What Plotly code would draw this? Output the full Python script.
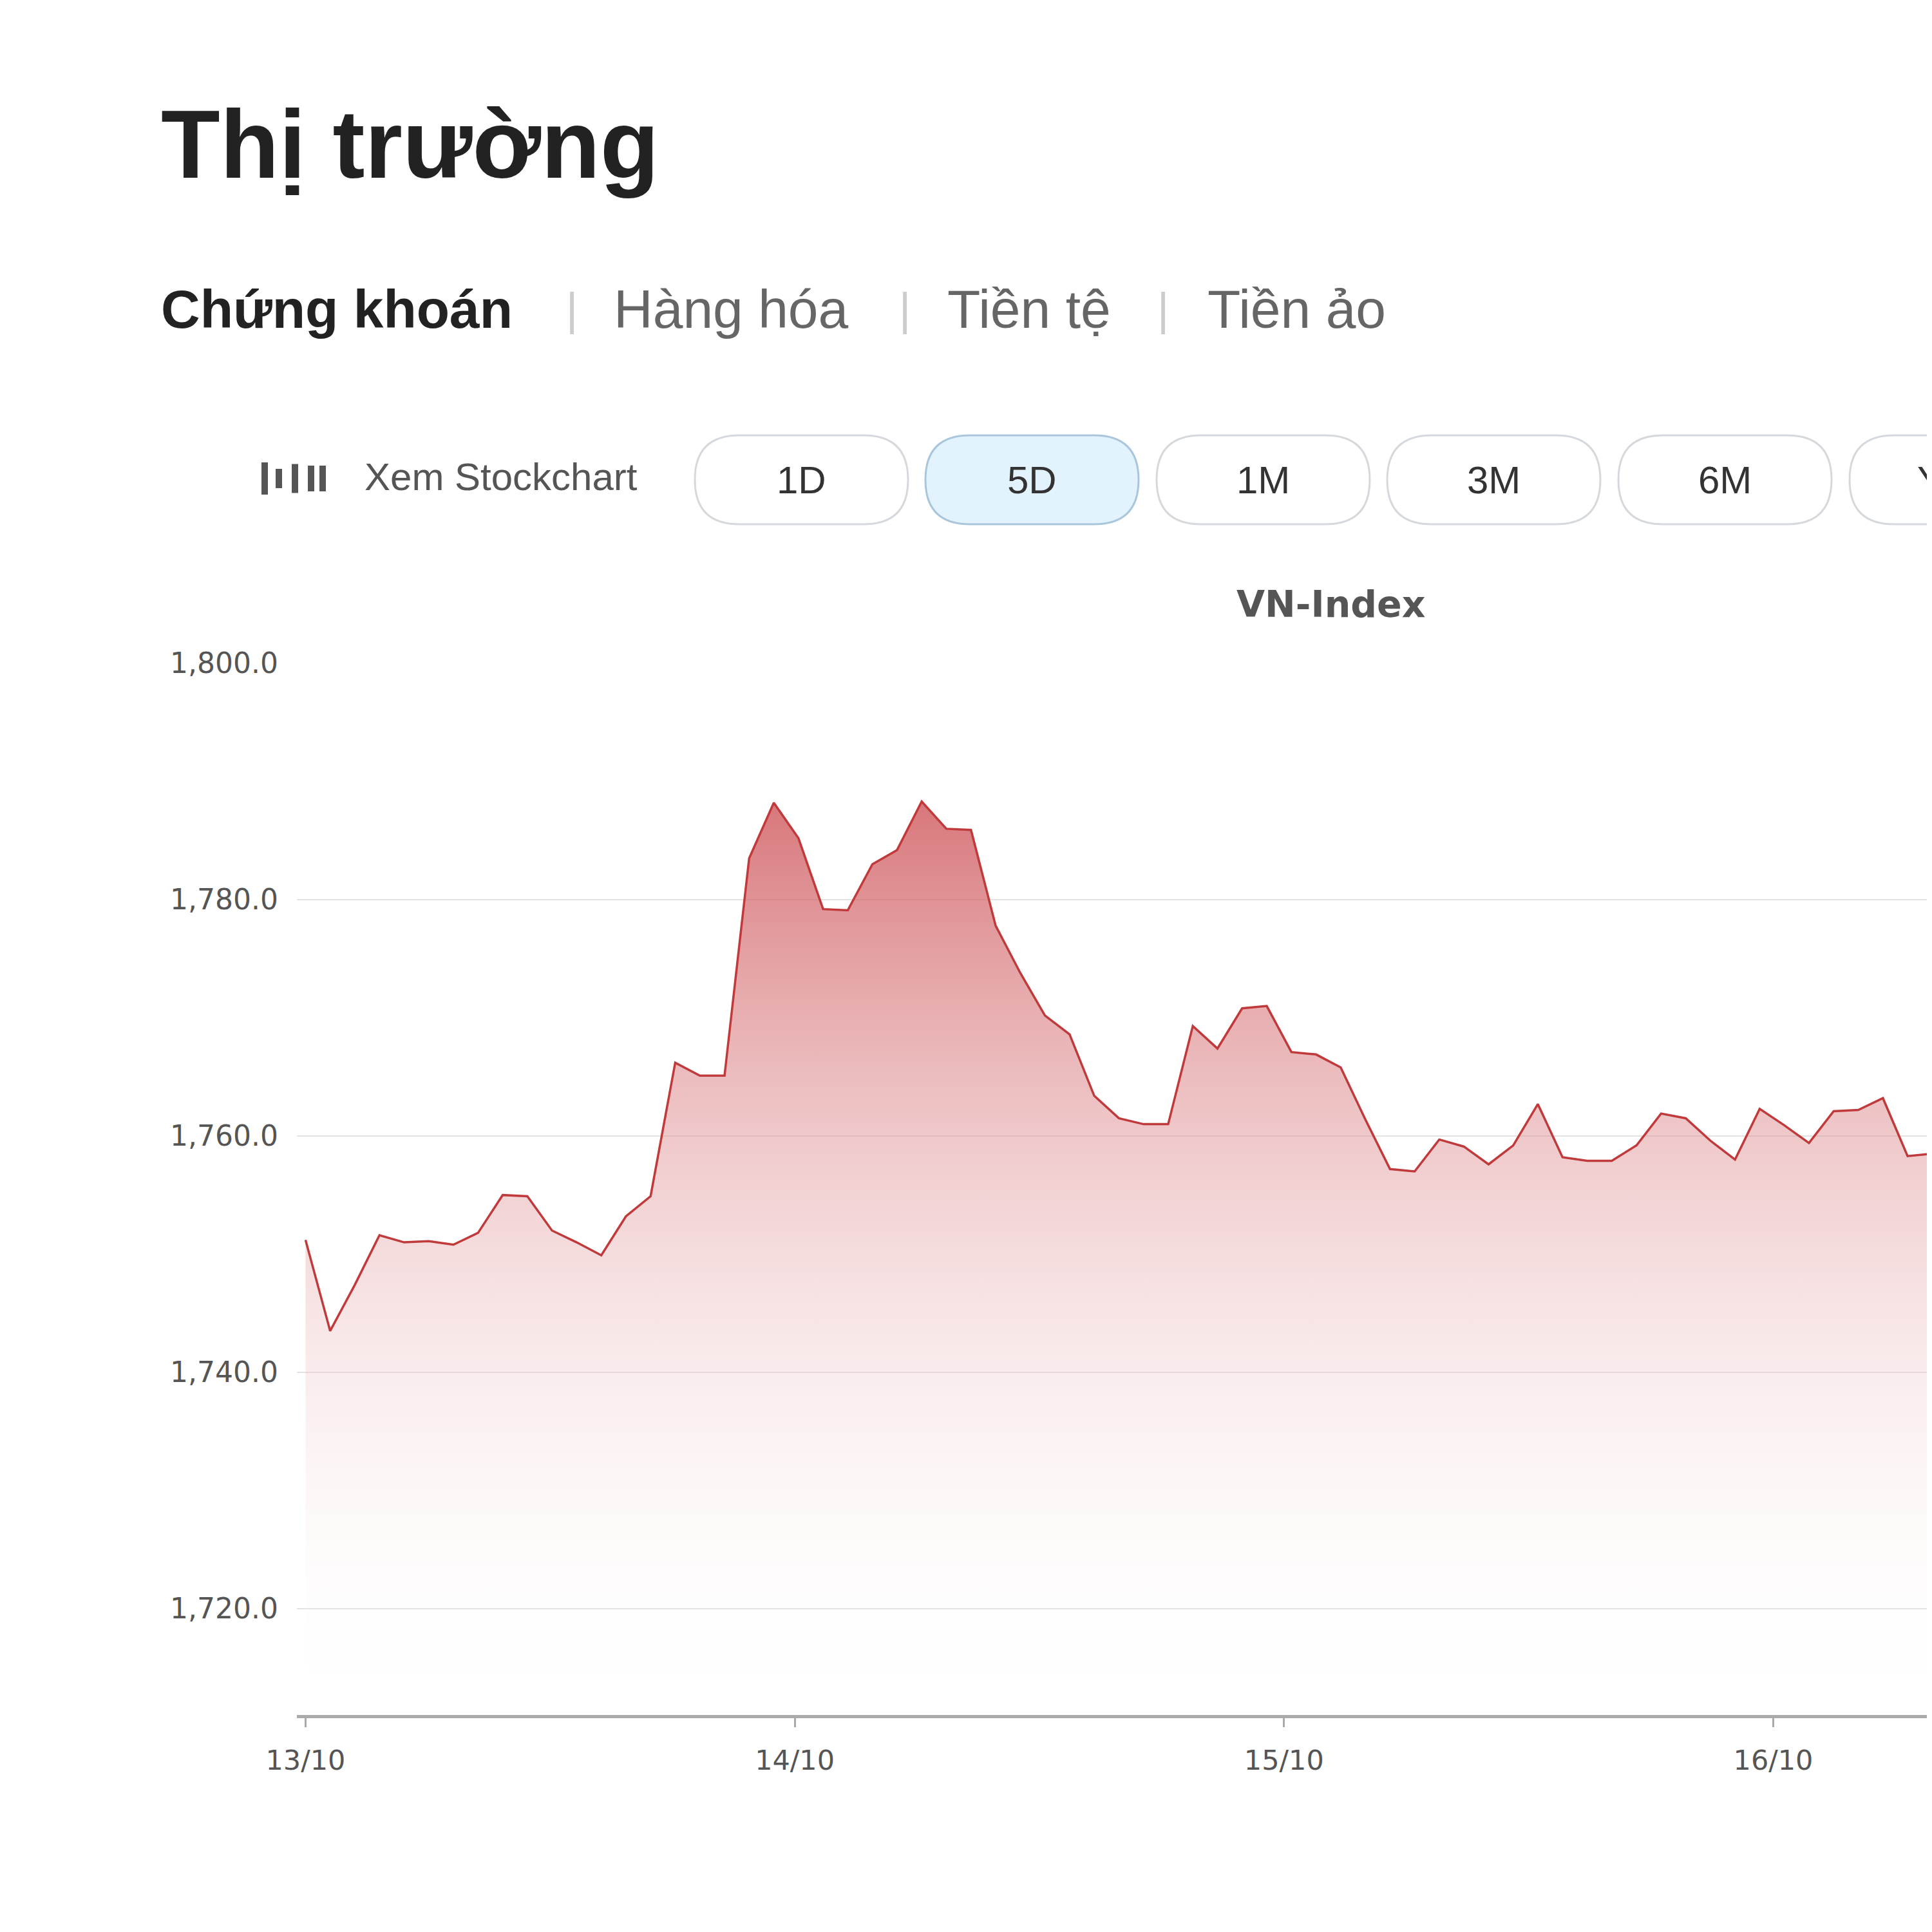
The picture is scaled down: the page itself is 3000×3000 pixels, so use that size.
import plotly.graph_objects as go

values = [1751.2,1743.5,1747.4,1751.6,1751.0,1751.1,1750.8,1751.8,1755.0,1754.9,
          1752.0,1751.0,1749.9,1753.2,1754.9,1766.2,1765.1,1765.1,1783.5,1788.2,
          1785.2,1779.2,1779.1,1783.0,1784.2,1788.3,1786.0,1785.9,1777.8,1773.8,
          1770.2,1768.6,1763.4,1761.5,1761.0,1761.0,1769.3,1767.4,1770.8,1771.0,
          1767.1,1766.9,1765.8,1761.4,1757.2,1757.0,1759.7,1759.1,1757.6,1759.2,
          1762.7,1758.2,1757.9,1757.9,1759.2,1761.9,1761.5,1759.6,1758.0,1762.3,
          1760.9,1759.4,1762.1,1762.2,1763.2,1758.3,1758.5,1754.0]
step = 20/397  # fraction of a day between samples
xs = [13 + i*step for i in range(len(values))]
tick_vals = [13, 14, 15, 16]
tick_text = ["13/10", "14/10", "15/10", "16/10"]
y_ticks = [1720, 1740, 1760, 1780, 1800]
buttons = ["1D", "5D", "1M", "3M", "6M", "YTD"]
tabs = ["Chứng khoán", "Hàng hóa", "Tiền tệ", "Tiền ảo"]

W = H = 3000
L, R, T, B = 453, 0, 1022, 345
PW, PH = W - L - R, H - T - B
FONT = "Liberation Sans, Arial, sans-serif"
TICKFONT = "DejaVu Sans, Verdana, sans-serif"
fig = go.Figure()
fig.add_trace(go.Scatter(x=xs, y=[1711]*len(xs), mode="lines", line=dict(width=0),
                         hoverinfo="skip", showlegend=False))
fig.add_trace(go.Scatter(x=xs, y=values, mode="lines", line=dict(color="#c0393b", width=3.5),
                         fill="tonexty",
                         fillgradient=dict(type="vertical",
                                           colorscale=[[0, "rgba(255,255,255,0)"], [1, "rgba(205,80,85,0.78)"]]),
                         showlegend=False))

fig.update_layout(
    width=W, height=H, paper_bgcolor="white", plot_bgcolor="white",
    margin=dict(l=L, r=R, t=T, b=B),
    font=dict(family=FONT),
    xaxis=dict(range=[13 - 7/397, 13 + 1324/397], tickvals=tick_vals, ticktext=tick_text,
               showgrid=False, showline=True, linecolor="#aaaaaa", linewidth=5,
               ticks="outside", ticklen=14, tickwidth=3, tickcolor="#aaaaaa", ticklabelstandoff=14,
               tickfont=dict(size=43, color="#555555", family=TICKFONT), zeroline=False),
    yaxis=dict(range=[1711, 1800], tickvals=y_ticks, tickformat=",.1f",
               showgrid=True, gridcolor="#e3e3e3", gridwidth=2, zeroline=False,
               tickfont=dict(size=44, color="#555555", family=TICKFONT), ticklabelstandoff=28),
)

def px(x): return (x - L) / PW
def py(y): return (H - B - y) / PH

ann = []
ann.append(dict(text="<b>Thị trường</b>", x=px(240), y=py(216), font=dict(size=150, color="#222222")))
tab_x = [240, 943, 1461, 1865]
for i, (t, x) in enumerate(zip(tabs, tab_x)):
    ann.append(dict(text=f"<b>{t}</b>" if i == 0 else t, x=px(x), y=py(472),
                    font=dict(size=84, color="#222222" if i == 0 else "#666666")))
for x in [880, 1397, 1798]:
    ann.append(dict(text="|", x=px(x), y=py(472), xanchor="center", font=dict(size=70, color="#cccccc")))
ann.append(dict(text="Xem Stockchart", x=px(556), y=py(733), font=dict(size=60, color="#555555")))
ann.append(dict(text="<b>VN-Index</b>", x=px(2059), y=py(930), xanchor="center",
                font=dict(size=57, color="#555555", family=TICKFONT)))

def rrect(x0, y0, x1, y1, r):
    X = lambda v: px(v); Y = lambda v: py(v)
    return (f"M {X(x0+r)} {Y(y0)} L {X(x1-r)} {Y(y0)} Q {X(x1)} {Y(y0)} {X(x1)} {Y(y0+r)} "
            f"L {X(x1)} {Y(y1-r)} Q {X(x1)} {Y(y1)} {X(x1-r)} {Y(y1)} "
            f"L {X(x0+r)} {Y(y1)} Q {X(x0)} {Y(y1)} {X(x0)} {Y(y1-r)} "
            f"L {X(x0)} {Y(y0+r)} Q {X(x0)} {Y(y0)} {X(x0+r)} {Y(y0)} Z")

shapes = []
bx = [1071, 1429, 1788, 2146, 2505, 2864]
for i, (b, x) in enumerate(zip(buttons, bx)):
    shapes.append(dict(type="path", xref="paper", yref="paper", path=rrect(x, 668, x + 331, 806, 69),
                       line=dict(color="#a9c6dc" if i == 1 else "#d5d9dd", width=3),
                       fillcolor="#e2f3fd" if i == 1 else "white", layer="below"))
    ann.append(dict(text=b, x=px(x + 165), y=py(737), xanchor="center", font=dict(size=60, color="#333333")))
for x0, h in [(398, 50), (420, 30), (445, 45), (470, 40), (488, 40)]:
    shapes.append(dict(type="rect", xref="paper", yref="paper", x0=px(x0), x1=px(x0 + 10),
                       y0=py(735 + h/2), y1=py(735 - h/2), line=dict(width=0), fillcolor="#555555"))
for a in ann:
    a.setdefault("xref", "paper"); a.setdefault("yref", "paper")
    a.setdefault("xanchor", "left"); a["yanchor"] = "middle"; a["showarrow"] = False
fig.update_layout(annotations=ann, shapes=shapes)
fig.write_html("out.html")
